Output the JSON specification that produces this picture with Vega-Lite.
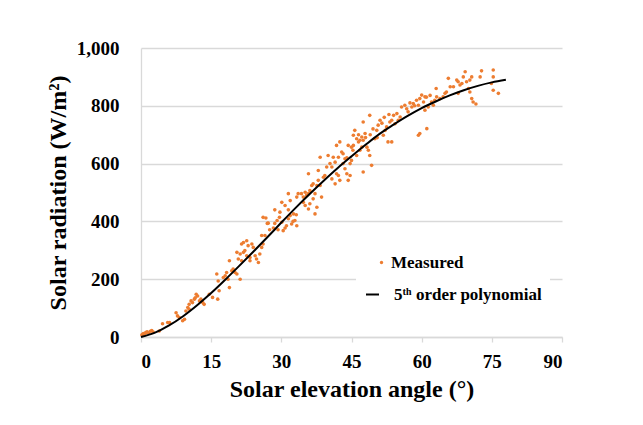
{
  "$schema": "https://vega.github.io/schema/vega-lite/v6.json",
  "width": 421,
  "height": 289,
  "autosize": {"type": "none"},
  "padding": {"left": 141, "top": 48, "right": 81, "bottom": 88},
  "background": "white",
  "config": {"view": {"stroke": null}, "font": "Liberation Serif"},
  "datasets": {
    "measured": [
      {"angle":0.2,"radiation":8},{"angle":0.5,"radiation":12},{"angle":0.8,"radiation":10},{"angle":1.0,"radiation":15},{"angle":1.3,"radiation":18},{"angle":1.6,"radiation":14},{"angle":2.0,"radiation":20},{"angle":2.3,"radiation":22},{"angle":2.6,"radiation":17},{"angle":0.3,"radiation":5},
      {"angle":3.9,"radiation":21},{"angle":4.6,"radiation":46},{"angle":5.7,"radiation":50},{"angle":6.1,"radiation":50},{"angle":7.5,"radiation":84},{"angle":7.8,"radiation":73},{"angle":8.2,"radiation":67},{"angle":8.9,"radiation":56},{"angle":9.3,"radiation":61},
      {"angle":10.0,"radiation":102},{"angle":10.3,"radiation":113},{"angle":10.7,"radiation":125},{"angle":11.4,"radiation":131},{"angle":11.8,"radiation":148},{"angle":12.1,"radiation":142},{"angle":12.5,"radiation":125},{"angle":12.8,"radiation":131},{"angle":13.2,"radiation":119},{"angle":13.5,"radiation":113},{"angle":11.0,"radiation":119},{"angle":11.6,"radiation":136},{"angle":10.3,"radiation":96},{"angle":9.6,"radiation":90},{"angle":14.6,"radiation":148},{"angle":15.3,"radiation":137},{"angle":16.4,"radiation":131},{"angle":16.7,"radiation":160},
      {"angle":16.2,"radiation":218},{"angle":16.5,"radiation":194},{"angle":17.6,"radiation":206},{"angle":18.0,"radiation":212},{"angle":18.6,"radiation":200},{"angle":18.9,"radiation":171},{"angle":18.3,"radiation":223},{"angle":19.4,"radiation":229},{"angle":19.7,"radiation":235},{"angle":20.1,"radiation":223},{"angle":20.5,"radiation":218},{"angle":21.2,"radiation":200},{"angle":18.9,"radiation":264},
      {"angle":21.5,"radiation":322},{"angle":21.9,"radiation":327},{"angle":22.6,"radiation":333},{"angle":22.9,"radiation":316},{"angle":23.7,"radiation":322},{"angle":24.0,"radiation":310},{"angle":20.5,"radiation":293},{"angle":21.2,"radiation":287},{"angle":21.9,"radiation":293},{"angle":22.2,"radiation":299},{"angle":22.6,"radiation":281},{"angle":23.3,"radiation":275},{"angle":20.8,"radiation":270},{"angle":21.5,"radiation":264},{"angle":23.3,"radiation":264},{"angle":24.4,"radiation":281},{"angle":24.7,"radiation":270},{"angle":25.1,"radiation":258},{"angle":25.4,"radiation":287},{"angle":25.8,"radiation":310},{"angle":26.1,"radiation":322},{"angle":25.8,"radiation":351},{"angle":26.5,"radiation":351},
      {"angle":26.1,"radiation":414},{"angle":26.7,"radiation":412},{"angle":27.0,"radiation":393},{"angle":28.6,"radiation":393},{"angle":29.1,"radiation":403},{"angle":29.6,"radiation":414},{"angle":30.1,"radiation":397},{"angle":30.4,"radiation":368},{"angle":31.1,"radiation":385},{"angle":31.5,"radiation":409},{"angle":31.9,"radiation":420},{"angle":32.2,"radiation":391},{"angle":32.6,"radiation":426},{"angle":32.9,"radiation":403},{"angle":33.3,"radiation":385},{"angle":30.1,"radiation":466},{"angle":30.8,"radiation":455},{"angle":31.5,"radiation":496},{"angle":31.9,"radiation":472},{"angle":33.3,"radiation":484},{"angle":33.6,"radiation":496},{"angle":29.7,"radiation":432},
      {"angle":27.2,"radiation":394},{"angle":28.3,"radiation":377},{"angle":27.5,"radiation":371},{"angle":29.3,"radiation":371},{"angle":30.8,"radiation":377},{"angle":28.6,"radiation":440},{"angle":31.5,"radiation":440},{"angle":32.5,"radiation":400},{"angle":33.2,"radiation":423},
      {"angle":34.3,"radiation":496},{"angle":34.7,"radiation":484},{"angle":35.1,"radiation":501},{"angle":35.4,"radiation":490},{"angle":35.8,"radiation":496},{"angle":36.1,"radiation":507},{"angle":34.7,"radiation":466},{"angle":35.1,"radiation":455},{"angle":35.8,"radiation":443},{"angle":36.1,"radiation":461},{"angle":36.8,"radiation":478},{"angle":37.2,"radiation":496},{"angle":37.6,"radiation":524},{"angle":37.9,"radiation":542},{"angle":36.5,"radiation":524},{"angle":35.8,"radiation":565},{"angle":36.8,"radiation":530},{"angle":37.2,"radiation":426},{"angle":37.6,"radiation":449},{"angle":38.6,"radiation":484},{"angle":37.9,"radiation":576},{"angle":38.3,"radiation":622},{"angle":39.7,"radiation":588},{"angle":39.3,"radiation":559},{"angle":40.0,"radiation":628},{"angle":40.4,"radiation":600},{"angle":40.8,"radiation":588},{"angle":41.1,"radiation":622},{"angle":41.5,"radiation":605},{"angle":41.8,"radiation":565},{"angle":41.5,"radiation":530},{"angle":41.8,"radiation":663},{"angle":39.0,"radiation":553},{"angle":40.8,"radiation":547},{"angle":38.3,"radiation":524},
      {"angle":42.2,"radiation":622},{"angle":42.5,"radiation":675},{"angle":42.9,"radiation":640},{"angle":43.2,"radiation":634},{"angle":43.6,"radiation":617},{"angle":43.2,"radiation":600},{"angle":43.6,"radiation":582},{"angle":44.0,"radiation":565},{"angle":44.7,"radiation":559},{"angle":44.3,"radiation":542},{"angle":42.5,"radiation":542},{"angle":42.2,"radiation":559},{"angle":44.7,"radiation":600},{"angle":45.0,"radiation":611},{"angle":44.3,"radiation":663},{"angle":45.0,"radiation":657},{"angle":45.3,"radiation":646},{"angle":45.4,"radiation":663},{"angle":45.4,"radiation":698},{"angle":45.7,"radiation":715},{"angle":46.1,"radiation":686},{"angle":46.5,"radiation":675},{"angle":46.8,"radiation":681},{"angle":47.2,"radiation":692},{"angle":47.5,"radiation":681},{"angle":46.8,"radiation":646},{"angle":47.2,"radiation":657},{"angle":47.5,"radiation":744},{"angle":47.9,"radiation":704},{"angle":48.3,"radiation":657},{"angle":48.6,"radiation":646},{"angle":48.9,"radiation":628},{"angle":49.3,"radiation":594},{"angle":47.5,"radiation":571},{"angle":46.1,"radiation":628},{"angle":48.9,"radiation":767},
      {"angle":50.0,"radiation":686},{"angle":50.4,"radiation":715},{"angle":50.7,"radiation":733},{"angle":51.1,"radiation":750},{"angle":51.8,"radiation":698},{"angle":52.2,"radiation":715},{"angle":52.5,"radiation":727},{"angle":52.8,"radiation":675},{"angle":53.6,"radiation":675},{"angle":53.2,"radiation":744},{"angle":53.6,"radiation":750},{"angle":54.0,"radiation":767},{"angle":54.7,"radiation":773},{"angle":54.3,"radiation":738},{"angle":55.0,"radiation":750},{"angle":55.4,"radiation":761},{"angle":55.7,"radiation":796},{"angle":56.4,"radiation":802},{"angle":56.8,"radiation":790},{"angle":57.1,"radiation":779},{"angle":57.9,"radiation":796},{"angle":58.2,"radiation":808},{"angle":58.9,"radiation":819},{"angle":59.3,"radiation":802},{"angle":59.6,"radiation":825},{"angle":60.0,"radiation":837},{"angle":60.4,"radiation":813},{"angle":60.7,"radiation":831},{"angle":59.3,"radiation":698},{"angle":59.6,"radiation":704},{"angle":61.1,"radiation":721},{"angle":60.7,"radiation":785},{"angle":61.4,"radiation":796},
      {"angle":44.0,"radiation":620},{"angle":46.5,"radiation":700},{"angle":48.0,"radiation":690},{"angle":49.0,"radiation":700},{"angle":49.6,"radiation":720},{"angle":50.5,"radiation":690},{"angle":51.5,"radiation":740},{"angle":52.0,"radiation":760},{"angle":53.0,"radiation":770},{"angle":57.5,"radiation":810},{"angle":58.5,"radiation":800},{"angle":61.0,"radiation":830},{"angle":61.8,"radiation":836},
      {"angle":62.1,"radiation":813},{"angle":62.5,"radiation":802},{"angle":62.8,"radiation":819},{"angle":63.2,"radiation":831},{"angle":63.1,"radiation":860},{"angle":63.9,"radiation":825},{"angle":64.6,"radiation":831},{"angle":65.0,"radiation":843},{"angle":65.3,"radiation":848},{"angle":65.7,"radiation":895},{"angle":66.1,"radiation":866},{"angle":66.8,"radiation":866},{"angle":67.5,"radiation":889},{"angle":67.8,"radiation":883},{"angle":68.2,"radiation":872},{"angle":68.6,"radiation":877},{"angle":67.8,"radiation":843},{"angle":68.9,"radiation":900},{"angle":69.3,"radiation":918},{"angle":69.6,"radiation":883},{"angle":70.0,"radiation":860},{"angle":70.3,"radiation":889},{"angle":70.7,"radiation":900},{"angle":70.3,"radiation":848},{"angle":70.7,"radiation":825},{"angle":71.0,"radiation":813},{"angle":71.6,"radiation":806},{"angle":72.5,"radiation":900},{"angle":72.8,"radiation":921},{"angle":74.9,"radiation":877},{"angle":75.3,"radiation":924},{"angle":75.3,"radiation":900},{"angle":75.3,"radiation":854},{"angle":76.4,"radiation":843}
    ],
    "fit": [
      {"angle":0,"radiation":0},{"angle":3,"radiation":15},{"angle":6,"radiation":40},{"angle":9,"radiation":72},{"angle":12,"radiation":110},{"angle":15,"radiation":152},{"angle":18,"radiation":198},{"angle":21,"radiation":246},{"angle":24,"radiation":295},{"angle":27,"radiation":345},{"angle":30,"radiation":396},{"angle":33,"radiation":446},{"angle":36,"radiation":494},{"angle":39,"radiation":540},{"angle":42,"radiation":584},{"angle":45,"radiation":625},{"angle":48,"radiation":665},{"angle":51,"radiation":703},{"angle":54,"radiation":735},{"angle":57,"radiation":765},{"angle":60,"radiation":792},{"angle":63,"radiation":815},{"angle":66,"radiation":836},{"angle":69,"radiation":854},{"angle":72,"radiation":869},{"angle":75,"radiation":881},{"angle":78,"radiation":890}
    ]
  },
  "encoding": {
    "x": {
      "field": "angle",
      "type": "quantitative",
      "scale": {"domain": [0, 90], "nice": false},
      "axis": {
        "title": "Solar elevation angle (°)",
        "values": [0, 15, 30, 45, 60, 75, 90],
        "grid": false,
        "domainColor": "#d9d9d9",
        "domainWidth": 1.3,
        "tickColor": "#d9d9d9",
        "tickWidth": 1.3,
        "tickSize": 5,
        "labelPadding": 10,
        "labelFont": "Liberation Serif",
        "labelFontSize": 19,
        "labelFontWeight": "bold",
        "labelColor": "black",
        "titleFont": "Liberation Serif",
        "titleFontSize": 24,
        "titleFontWeight": "bold",
        "titleColor": "black",
        "titlePadding": 6
      }
    },
    "y": {
      "field": "radiation",
      "type": "quantitative",
      "scale": {"domain": [0, 1000], "nice": false},
      "axis": {
        "title": "Solar radiation (W/m²)",
        "values": [0, 200, 400, 600, 800, 1000],
        "format": ",d",
        "grid": true,
        "gridColor": "#d9d9d9",
        "gridWidth": 1.3,
        "domainColor": "#d9d9d9",
        "domainWidth": 1.3,
        "ticks": false,
        "tickSize": 0,
        "labelPadding": 22,
        "labelFont": "Liberation Serif",
        "labelFontSize": 19,
        "labelFontWeight": "bold",
        "labelColor": "black",
        "titleFont": "Liberation Serif",
        "titleFontSize": 24,
        "titleFontWeight": "bold",
        "titleColor": "black",
        "titlePadding": 6
      }
    }
  },
  "layer": [
    {
      "data": {"name": "measured"},
      "mark": {"type": "circle", "size": 13, "opacity": 1},
      "encoding": {
        "fill": {
          "datum": "Measured",
          "scale": {"domain": ["Measured"], "range": ["#ED7D31"]},
          "legend": {
            "title": null,
            "orient": "none",
            "legendX": 226,
            "legendY": 200,
            "fillColor": "white",
            "padding": 6,
            "symbolSize": 11,
            "symbolStrokeWidth": 0,
            "labelFont": "Liberation Serif",
            "labelFontSize": 17,
            "labelFontWeight": "bold",
            "labelColor": "black",
            "labelOffset": 1
          }
        }
      }
    },
    {
      "data": {"name": "fit"},
      "mark": {"type": "line", "strokeWidth": 2, "interpolate": "monotone"},
      "encoding": {
        "stroke": {
          "datum": "5ᵗʰ order polynomial",
          "scale": {"domain": ["5ᵗʰ order polynomial"], "range": ["#000000"]},
          "legend": {
            "title": null,
            "orient": "none",
            "legendX": 215,
            "legendY": 230,
            "fillColor": "white",
            "padding": 8,
            "symbolType": "stroke",
            "symbolSize": 169,
            "symbolStrokeWidth": 2,
            "labelFont": "Liberation Serif",
            "labelFontSize": 17,
            "labelFontWeight": "bold",
            "labelColor": "black",
            "labelOffset": 13
          }
        }
      }
    }
  ]
}
